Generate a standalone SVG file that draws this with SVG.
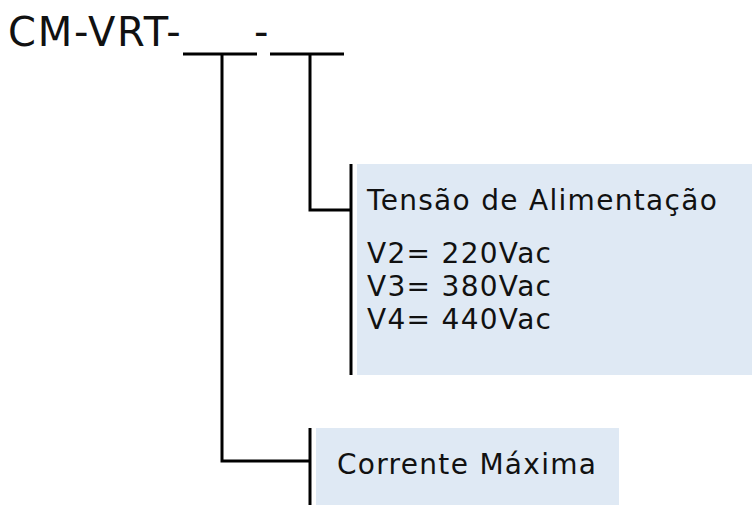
<svg xmlns="http://www.w3.org/2000/svg" width="752" height="505" viewBox="0 0 752 505">
<style>
.t{font-family:"DejaVu Sans","Liberation Sans",sans-serif;fill:#111;}
.ln{stroke:#000;stroke-width:3;fill:none;}
.box{fill:#dfe9f4;}
.b{font-size:28px;letter-spacing:1.3px;}
.h{font-size:40px;letter-spacing:1.8px;}
</style>
<rect width="752" height="505" fill="#fff"/>
<g id="title">
<text class="t h" x="8" y="46">CM-VRT-</text>
<text class="t h" x="254" y="46">-</text>
<line class="ln" x1="183" y1="54" x2="257" y2="54"/>
<line class="ln" x1="270" y1="54" x2="344" y2="54"/>
</g>
<g id="connectors">
<polyline class="ln" points="222,54 222,461 310,461"/>
<polyline class="ln" points="310,54 310,210 351,210"/>
</g>
<g id="tensao">
<rect class="box" x="357" y="164" width="395" height="211"/>
<line class="ln" x1="351" y1="164" x2="351" y2="375"/>
<text class="t b" x="367" y="210">Tensão de Alimentação</text>
<text class="t b" x="367" y="263">V2= 220Vac</text>
<text class="t b" x="367" y="296">V3= 380Vac</text>
<text class="t b" x="367" y="329">V4= 440Vac</text>
</g>
<g id="corrente">
<rect class="box" x="316" y="428" width="303" height="77"/>
<line class="ln" x1="310" y1="428" x2="310" y2="505"/>
<text class="t b" x="337" y="474">Corrente Máxima</text>
</g>
</svg>
